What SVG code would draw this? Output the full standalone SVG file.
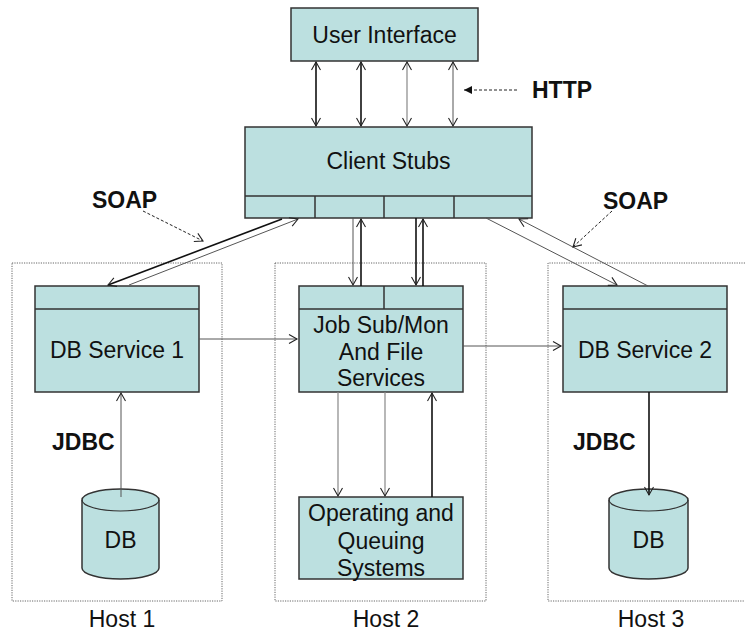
<svg xmlns="http://www.w3.org/2000/svg" width="745" height="632" viewBox="0 0 745 632">
<style>
.box{fill:#BCE0E0;stroke:#333;stroke-width:1.5}
.div{fill:none;stroke:#333;stroke-width:1.5}
.host{fill:none;stroke:#666;stroke-width:1;stroke-dasharray:1.2,1.2}
.t{font-family:"Liberation Sans",Arial,sans-serif;font-size:23px;fill:#111;text-anchor:middle}
.b{font-family:"Liberation Sans",Arial,sans-serif;font-size:23px;font-weight:bold;fill:#111}
.dk{stroke:#111;stroke-width:1.6;fill:none}
.lt{stroke:#555;stroke-width:1;fill:none}
.gr{stroke:#888;stroke-width:1.2;fill:none}
.dash{stroke:#222;stroke-width:1;fill:none;stroke-dasharray:3,2}
</style>
<defs>
<marker id="ae" markerUnits="userSpaceOnUse" markerWidth="14" markerHeight="14" refX="9" refY="5" orient="auto">
<path d="M1,0.5 L9,5 L1,9.5" fill="none" stroke="#222" stroke-width="1.1"/>
</marker>
<marker id="as" markerUnits="userSpaceOnUse" markerWidth="14" markerHeight="14" refX="1" refY="5" orient="auto">
<path d="M9,0.5 L1,5 L9,9.5" fill="none" stroke="#222" stroke-width="1.1"/>
</marker>
<marker id="af" markerUnits="userSpaceOnUse" markerWidth="12" markerHeight="12" refX="8" refY="4" orient="auto">
<path d="M0,0 L8,4 L0,8 Z" fill="#111"/>
</marker>
</defs>

<g id="hosts">
<rect class="host" x="12" y="263" width="210" height="338"/>
<rect class="host" x="275" y="263" width="211" height="338"/>
<path class="host" d="M745,263 H548 V601 H745"/>
<text class="t" x="122" y="627">Host 1</text>
<text class="t" x="386" y="627">Host 2</text>
<text class="t" x="651" y="627">Host 3</text>
</g>

<g id="user-interface">
<rect class="box" x="291" y="8" width="187" height="53"/>
<text class="t" x="384.5" y="43">User Interface</text>
</g>

<g id="client-stubs">
<rect class="box" x="245" y="127" width="287" height="91"/>
<path class="div" d="M245,196 H532 M315,196 V218 M384,196 V218 M454,196 V218"/>
<text class="t" x="388.5" y="169">Client Stubs</text>
</g>

<g id="db-service-1">
<rect class="box" x="35" y="286" width="164" height="106"/>
<path class="div" d="M35,309 H199"/>
<text class="t" x="117" y="358">DB Service 1</text>
</g>

<g id="job-sub">
<rect class="box" x="299" y="286" width="164" height="106"/>
<path class="div" d="M299,309 H463 M384,286 V309"/>
<text class="t" x="381" y="333">Job Sub/Mon</text>
<text class="t" x="381" y="360">And File</text>
<text class="t" x="381" y="386">Services</text>
</g>

<g id="db-service-2">
<rect class="box" x="563" y="286" width="164" height="106"/>
<path class="div" d="M563,309 H727"/>
<text class="t" x="645" y="358">DB Service 2</text>
</g>

<g id="operating">
<rect class="box" x="299" y="497" width="164" height="82"/>
<text class="t" x="381" y="521">Operating and</text>
<text class="t" x="381" y="549">Queuing</text>
<text class="t" x="381" y="576">Systems</text>
</g>

<g id="db-1">
<path class="box" d="M82,500 V568 A38.5,11 0 0 0 159,568 V500 A38.5,11 0 0 0 82,500 Z"/>
<path class="div" d="M82,500 A38.5,11 0 0 0 159,500" style="stroke-width:1.2"/>
<text class="t" x="120.5" y="548">DB</text>
</g>

<g id="db-2">
<path class="box" d="M609,500 V568 A39.5,11 0 0 0 688,568 V500 A39.5,11 0 0 0 609,500 Z"/>
<path class="div" d="M609,500 A39.5,11 0 0 0 688,500" style="stroke-width:1.2"/>
<text class="t" x="648.5" y="548">DB</text>
</g>

<g id="labels">
<text class="b" x="532" y="98">HTTP</text>
<text class="b" x="92" y="208">SOAP</text>
<text class="b" x="603" y="209">SOAP</text>
<text class="b" x="52" y="450">JDBC</text>
<text class="b" x="573" y="450">JDBC</text>
</g>

<g id="connectors">
<line class="dk" x1="316" y1="62" x2="316" y2="126" marker-start="url(#as)" marker-end="url(#ae)"/>
<line class="dk" x1="361" y1="62" x2="361" y2="126" marker-start="url(#as)" marker-end="url(#ae)"/>
<line class="gr" x1="407" y1="62" x2="407" y2="126" marker-start="url(#as)" marker-end="url(#ae)"/>
<line class="lt" x1="453" y1="62" x2="453" y2="126" marker-start="url(#as)" marker-end="url(#ae)"/>
<line class="dash" x1="517" y1="90" x2="464" y2="90" marker-end="url(#af)"/>
<line class="dk" x1="282" y1="219" x2="108" y2="285" marker-end="url(#ae)"/>
<line class="lt" x1="129" y1="285" x2="298" y2="219" marker-end="url(#ae)"/>
<line class="dash" x1="143" y1="211" x2="203" y2="241" marker-end="url(#ae)"/>
<line class="lt" x1="486" y1="218" x2="617" y2="285" marker-end="url(#ae)"/>
<line class="lt" x1="648" y1="286" x2="519" y2="219" marker-end="url(#ae)"/>
<line class="dash" x1="612" y1="211" x2="573" y2="247" marker-end="url(#ae)"/>
<line class="lt" x1="353" y1="218" x2="353" y2="285" marker-end="url(#ae)"/>
<line class="dk" x1="361" y1="286" x2="361" y2="219" marker-end="url(#ae)"/>
<line class="dk" x1="416" y1="218" x2="416" y2="285" marker-end="url(#ae)"/>
<line class="dk" x1="423" y1="286" x2="423" y2="219" marker-end="url(#ae)"/>
<line class="lt" x1="199" y1="339" x2="297" y2="339" marker-end="url(#ae)"/>
<line class="lt" x1="463" y1="346" x2="561" y2="346" marker-end="url(#ae)"/>
<line class="gr" x1="338" y1="392" x2="338" y2="496" marker-end="url(#ae)"/>
<line class="gr" x1="385" y1="392" x2="385" y2="496" marker-end="url(#ae)"/>
<line class="dk" x1="432" y1="497" x2="432" y2="393" marker-end="url(#ae)"/>
<line class="lt" x1="121" y1="497" x2="121" y2="393" marker-end="url(#ae)"/>
<line class="dk" x1="649" y1="392" x2="649" y2="495" marker-end="url(#ae)"/>
</g>
</svg>
